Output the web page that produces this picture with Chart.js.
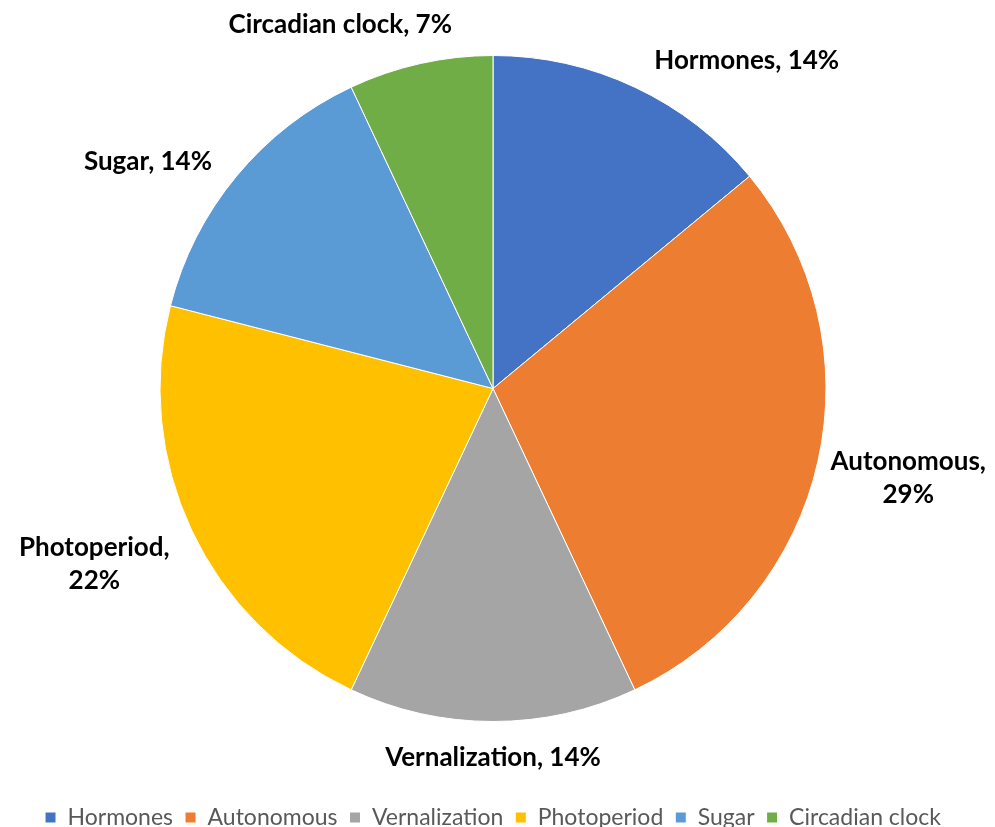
<!DOCTYPE html>
<html>
<head>
<meta charset="utf-8">
<script src="https://cdn.jsdelivr.net/npm/chart.js@4.4.1/dist/chart.umd.min.js"></script>
<style>
  html, body { margin: 0; padding: 0; background: #fff; overflow: hidden; }
  /* 畫布上下各多出一截，讓圓心和圖例落在原圖的位置 */
  #wrap { width: 995px; height: 856px; margin-top: -17px; }
</style>
</head>
<body>
<div id="wrap"><canvas id="pie"></canvas></div>
<script>
// 類別與比例（%）
const LABELS = ['Hormones', 'Autonomous', 'Vernalization', 'Photoperiod', 'Sugar', 'Circadian clock']
const VALUES = [14, 29, 14, 22, 14, 7]
// 標籤要不要斷行（Excel 在窄處把百分比放第二行）
const LABEL_LINES = [
  ['Hormones, 14%'],
  ['Autonomous,', '29%'],
  ['Vernalization, 14%'],
  ['Photoperiod,', '22%'],
  ['Sugar, 14%'],
  ['Circadian clock, 7%'],
]
const COLORS = ['#4472C4', '#ED7D31', '#A5A5A5', '#FFC000', '#5B9BD5', '#70AD47']
// Excel 會微調標籤位置，這裡手動補一點（px）
const LABEL_NUDGE = [[11, 8], [-7, 13], [0, 0], [-4, -8], [-9, 15], [36, -3]]

const LABEL_FONT = 'bold 26px Lato'
const LINE_H = 33

// 仿 Excel outside-end：沿扇形中線往外推，再依象限決定對齊角
const outsideLabels = {
  id: 'outsideLabels',
  afterDatasetsDraw(chart) {
    const { ctx } = chart
    const meta = chart.getDatasetMeta(0)
    ctx.save()
    ctx.font = LABEL_FONT
    ctx.fillStyle = '#000'
    ctx.textBaseline = 'middle'
    ctx.textAlign = 'center'
    meta.data.forEach((arc, i) => {
      const { x, y, startAngle, endAngle, outerRadius } = arc.getProps(['x', 'y', 'startAngle', 'endAngle', 'outerRadius'], true)
      const mid = (startAngle + endAngle) / 2
      const r = outerRadius + 20
      const px = x + Math.cos(mid) * r
      const py = y + Math.sin(mid) * r
      const lines = LABEL_LINES[i]
      const w = Math.max(...lines.map(t => ctx.measureText(t).width))
      const h = lines.length * LINE_H
      const cx = Math.cos(mid), sy = Math.sin(mid)
      let left
      if (cx > 0.15) left = px
      else if (cx < -0.15) left = px - w
      else left = px - w / 2
      let top
      if (sy < -0.3) top = py - h
      else if (sy > 0.3) top = py
      else top = py - h / 2
      const [dx, dy] = LABEL_NUDGE[i]
      lines.forEach((t, k) => {
        ctx.fillText(t, left + w / 2 + dx, top + LINE_H * (k + 0.5) + dy)
      })
    })
    ctx.restore()
  },
}

new Chart(document.getElementById('pie'), {
  type: 'pie',
  data: {
    labels: LABELS,
    datasets: [{
      data: VALUES,
      backgroundColor: COLORS,
      borderColor: '#ffffff',
      borderWidth: 1,
    }],
  },
  options: {
    responsive: true,
    maintainAspectRatio: false,
    animation: false,
    radius: 333,
    layout: { padding: { top: 0, right: 9, bottom: 0, left: 0 } },
    plugins: {
      tooltip: { enabled: false },
      legend: {
        position: 'bottom',
        labels: {
          boxWidth: 11,
          boxHeight: 11,
          padding: 12,
          color: '#595959',
          font: { family: 'Lato', size: 23 },
        },
      },
    },
  },
  plugins: [outsideLabels],
})
</script>
</body>
</html>
